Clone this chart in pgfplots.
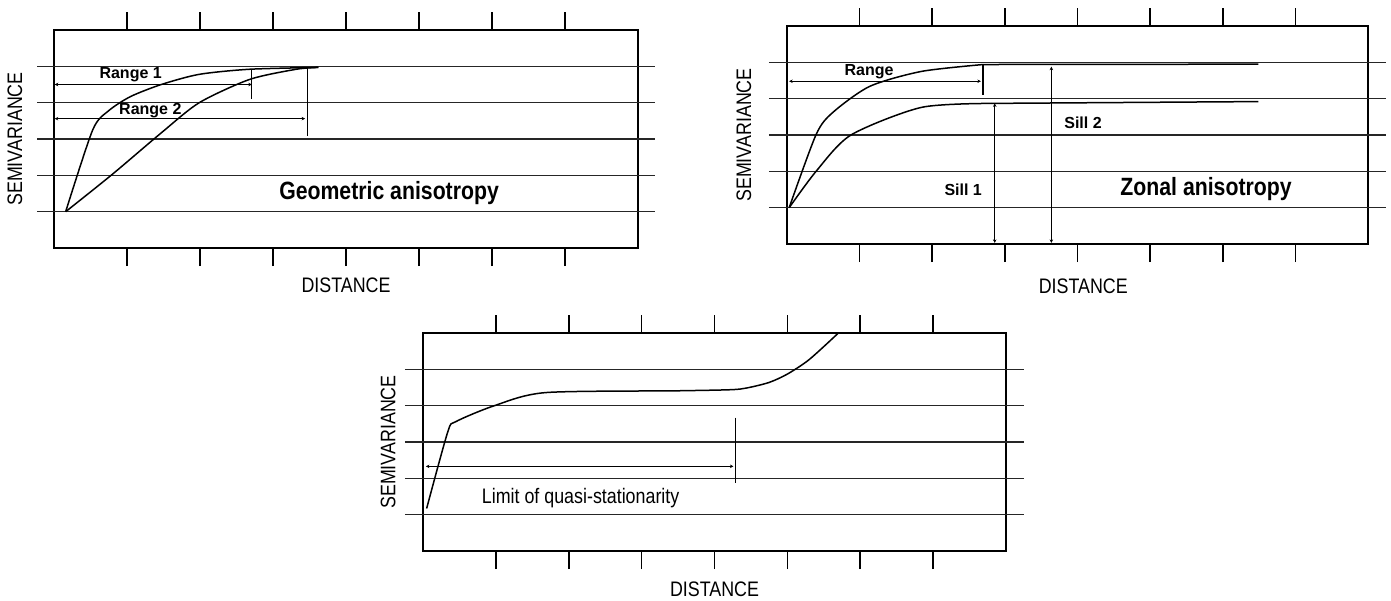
\documentclass[border=0pt]{standalone}
\usepackage{fontspec}
\setmainfont{Liberation Sans}[FakeStretch=0.85]
\newfontfamily\lblfont{Liberation Sans}
\usepackage{pgfplots}
\pgfplotsset{compat=1.18}
\usetikzlibrary{arrows.meta}
\pgfplotsset{
  panel/.style={
    scale only axis, width=584pt, height=218pt,
    xmin=0, xmax=8, ymin=-1, ymax=5,
    xtick={1,2,3,4,5,6,7}, xticklabels={}, ytick=\empty,
    tick align=outside, major tick length=18pt,
    axis line style={line width=1.6pt},
    every tick/.style={black, line width=1.6pt},
    clip=false,
    xlabel={DISTANCE}, ylabel={SEMIVARIANCE},
    label style={font=\fontsize{21}{25}\selectfont},
  },
  gl/.style={black!85, line width=1.6pt},
  cv/.style={black, line width=1.5pt, smooth, tension=0.45},
  dim/.style={black, line width=1.3pt, {Stealth[length=3.5pt,width=3.5pt]}-{Stealth[length=3.5pt,width=3.5pt]}},
  vl/.style={black, line width=1.3pt},
}
\begin{document}
\begin{tikzpicture}
\path[use as bounding box] (0pt,0pt) rectangle (1391pt,-600pt);

% ---------- Panel 1: Geometric anisotropy
\begin{axis}[panel, at={(54pt,-248pt)}, anchor=south west,
  xlabel style={at={(axis description cs:0.5,-0.17)}, anchor=center},
  ylabel style={at={(axis description cs:-0.067,0.5)}, anchor=center}]
\addplot[gl] coordinates {(-0.23,0) (8.23,0)};
\addplot[gl] coordinates {(-0.23,1) (8.23,1)};
\addplot[gl] coordinates {(-0.23,2) (8.23,2)};
\addplot[gl] coordinates {(-0.23,3) (8.23,3)};
\addplot[gl] coordinates {(-0.23,4) (8.23,4)};
% curve A (short range)
\addplot[cv] coordinates {(0.16,0) (0.53,2.25) (0.75,2.78) (1.05,3.17) (1.47,3.5) (1.99,3.78) (2.68,3.92) (3.62,3.97)};
% curve B (long range)
\addplot[cv] coordinates {(0.16,0) (0.8,1.03) (1.47,2.17) (1.99,3.0) (2.68,3.64) (3.32,3.92) (3.62,3.97)};
% range arrows
\addplot[dim] coordinates {(0.01,3.5) (2.71,3.5)};
\addplot[vl] coordinates {(2.71,3.92) (2.71,3.11)};
\addplot[dim] coordinates {(0.01,2.56) (3.44,2.56)};
\addplot[vl] coordinates {(3.47,3.97) (3.47,2.08)};
\node[font=\lblfont\bfseries\fontsize{16}{18}\selectfont] at (axis cs:1.05,3.78) {Range 1};
\node[font=\lblfont\bfseries\fontsize{16}{18}\selectfont] at (axis cs:1.32,2.78) {Range 2};
\node[font=\bfseries\fontsize{25}{28}\selectfont] at (axis cs:4.59,0.5) {Geometric anisotropy};
\end{axis}

% ---------- Panel 2: Zonal anisotropy
\begin{axis}[panel, width=581pt, at={(787pt,-244pt)}, anchor=south west,
  xlabel style={at={(axis description cs:0.51,-0.193)}, anchor=center},
  ylabel style={at={(axis description cs:-0.074,0.5)}, anchor=center}]
\addplot[gl] coordinates {(-0.25,0) (8.25,0)};
\addplot[gl] coordinates {(-0.25,1) (8.25,1)};
\addplot[gl] coordinates {(-0.25,2) (8.25,2)};
\addplot[gl] coordinates {(-0.25,3) (8.25,3)};
\addplot[gl] coordinates {(-0.25,4) (8.25,4)};
% upper curve
\addplot[cv] coordinates {(0.03,0) (0.40,2.01) (0.63,2.62) (1.14,3.34) (1.85,3.75) (2.70,3.94)};
\addplot[black, line width=1.5pt] coordinates {(2.70,3.94) (6.49,3.95)};
% lower curve
\addplot[cv] coordinates {(0.03,0) (0.40,1.0) (0.88,2.0) (1.85,2.76) (2.82,2.87)};
\addplot[black, line width=1.5pt] coordinates {(2.82,2.87) (6.49,2.92)};
% range
\addplot[dim] coordinates {(0.03,3.48) (2.67,3.48)};
\addplot[vl] coordinates {(2.70,3.94) (2.70,3.09)};
% sills
\addplot[dim] coordinates {(2.86,2.87) (2.86,-0.97)};
\addplot[dim] coordinates {(3.64,3.88) (3.64,-0.97)};
\node[font=\lblfont\bfseries\fontsize{16}{18}\selectfont, anchor=west] at (axis cs:2.12,0.5) {Sill 1};
\node[font=\lblfont\bfseries\fontsize{16}{18}\selectfont, anchor=west] at (axis cs:3.77,2.34) {Sill 2};
\node[font=\lblfont\bfseries\fontsize{16}{18}\selectfont] at (axis cs:1.13,3.75) {Range};
\node[font=\bfseries\fontsize{25}{28}\selectfont] at (axis cs:5.77,0.52) {Zonal anisotropy};
\end{axis}

% ---------- Panel 3: Limit of quasi-stationarity
\begin{axis}[panel, width=583pt, at={(423pt,-551pt)}, anchor=south west,
  xlabel style={at={(axis description cs:0.5,-0.174)}, anchor=center},
  ylabel style={at={(axis description cs:-0.060,0.5)}, anchor=center}]
\addplot[gl] coordinates {(-0.25,0) (8.24,0)};
\addplot[gl] coordinates {(-0.25,1) (8.24,1)};
\addplot[gl] coordinates {(-0.25,2) (8.24,2)};
\addplot[gl] coordinates {(-0.25,3) (8.24,3)};
\addplot[gl] coordinates {(-0.25,4) (8.24,4)};
\addplot[cv] coordinates {(0.05,0.17) (0.34,2.28) (0.45,2.56) (0.98,3.0) (1.68,3.36) (3.5,3.41) (4.23,3.44) (4.45,3.49) (4.75,3.64) (5.0,3.87) (5.3,4.27) (5.70,5.0)};
\addplot[dim] coordinates {(0.04,1.33) (4.26,1.33)};
\addplot[vl] coordinates {(4.29,2.67) (4.29,0.86)};
\node[font=\fontsize{21}{25}\selectfont, anchor=west] at (axis cs:0.76,0.47) {Limit of quasi-stationarity};
\end{axis}
\end{tikzpicture}
\end{document}
